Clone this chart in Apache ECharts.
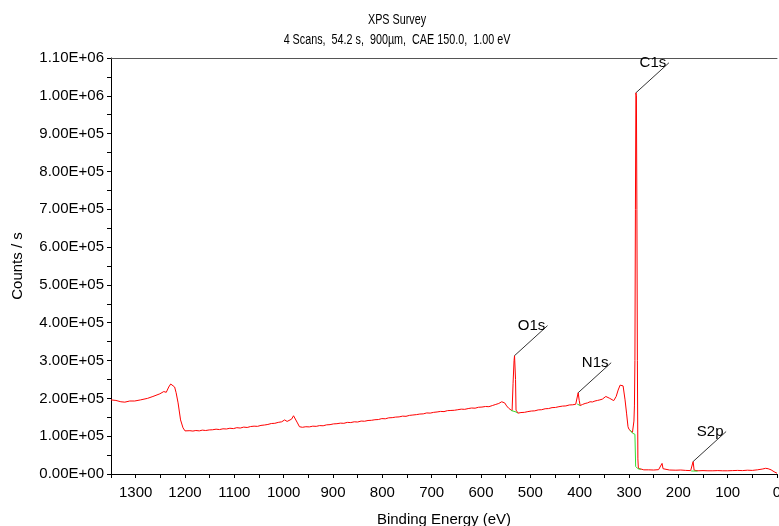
<!DOCTYPE html>
<html>
<head>
<meta charset="utf-8">
<script src="https://cdn.jsdelivr.net/npm/echarts@6/dist/echarts.min.js"></script>
<style>
  html, body { margin: 0; padding: 0; background: #fff; }
  #main { width: 779px; height: 526px; }
</style>
</head>
<body>
<div id="main"></div>
<script>
// survey spectrum (binding energy eV, counts/s)
var energy = [
  1350, 1340, 1330, 1322, 1312, 1302, 1290, 1276, 1265, 1251,
  1243, 1238, 1233, 1229, 1225, 1221, 1218, 1214, 1209, 1204,
  1200, 1196, 1190, 1184, 1178, 1171, 1165, 1158, 1151, 1144,
  1137, 1130, 1123, 1116, 1109, 1102, 1095, 1088, 1081, 1074,
  1067, 1060, 1053, 1046, 1039, 1032, 1025, 1018, 1011, 1004,
  998, 993, 990, 984, 980, 976, 972, 968, 962, 955,
  948, 941, 934, 927, 920, 913, 906, 899, 892, 885,
  878, 871, 864, 857, 850, 843, 836, 829, 822, 815,
  808, 801, 794, 787, 780, 773, 766, 759, 752, 745,
  738, 731, 724, 717, 710, 703, 696, 689, 682, 675,
  668, 661, 654, 647, 640, 633, 626, 619, 612, 605,
  598, 591, 584, 577, 570, 564, 558, 552, 548, 544,
  540, 537, 535, 533, 532, 531, 530, 529, 525, 519,
  512, 505, 498, 491, 484, 477, 470, 463, 456, 449,
  442, 435, 428, 421, 414, 408, 405, 403, 401, 399,
  394, 389, 384, 379, 374, 369, 364, 359, 354, 350,
  347, 343, 339, 335, 331, 326, 322, 318, 315, 312,
  308, 305, 302, 300, 297, 293, 290, 289, 288, 287,
  286, 285, 284, 283, 282, 281, 278, 270, 260, 250,
  240, 236, 233, 231, 228, 218, 205, 195, 185, 175,
  172, 170, 168, 160, 150, 140, 130, 120, 110, 100,
  90, 80, 70, 60, 50, 40, 30, 23, 18, 12,
  6, 0
];
var counts = [
  196000, 194500, 191000, 190000, 193000, 193000, 196000, 200000, 205000, 212000,
  218000, 216000, 230000, 238000, 238000, 230000, 215000, 188000, 143000, 122000,
  114000, 113000, 114500, 113500, 115000, 114000, 116000, 115000, 116500, 117000,
  118500, 117500, 119500, 119000, 121000, 120000, 122500, 121500, 124000, 123000,
  125500, 126500, 126000, 128500, 129500, 131000, 133500, 134000, 136500, 138000,
  143000, 139000, 137000, 145000, 154000, 150000, 135000, 125000, 123500, 125000,
  124500, 126500, 126000, 128000, 127500, 130000, 130500, 132500, 133000, 134500,
  134000, 136500, 136000, 138000, 137500, 140000, 139500, 141500, 142000, 143500,
  144000, 146500, 146000, 148500, 149000, 150500, 151000, 153000, 152500, 155000,
  156000, 157000, 158500, 159000, 161500, 161000, 163000, 164000, 165500, 165000,
  167500, 168000, 168500, 170000, 171500, 171000, 173000, 174500, 174000, 176500,
  177000, 178500, 178000, 181000, 184000, 186500, 191000, 188000, 180000, 174000,
  169000, 167000, 240000, 300000, 313000, 310000, 250000, 169000, 161000, 162500,
  163000, 165000, 166500, 167000, 169500, 170000, 172500, 173000, 175500, 176000,
  178000, 179500, 180000, 182500, 183000, 184500, 186000, 215000, 195000, 181000,
  184000, 186500, 188000, 191000, 190500, 193000, 194500, 196000, 198000, 201000,
  205000, 203000, 200000, 196000, 194000, 205000, 222000, 235000, 238000, 233000,
  196000, 161000, 125000, 118000, 115000, 110000, 140000, 180000, 300000, 700000,
  1008000, 1000000, 700000, 300000, 40000, 15000, 12000, 11000, 11000, 10500,
  11500, 13000, 28000, 14000, 11000, 10500, 10000, 10500, 9500, 9000,
  12000, 33000, 10000, 8500, 9000, 8500, 8500, 9000, 8500, 8500,
  9000, 9500, 9000, 10000, 9500, 11000, 13000, 15000, 14000, 11000,
  6000, 2000
];

// peak backgrounds (green)
var bgO1s = [[539, 168000], [535, 166000], [529, 164000], [526, 161000]];
var bgN1s = [[405, 185000], [399, 181000]];
var bgC1s = [[298, 116000], [293, 108000], [288, 105000], [287, 100000], [286.5, 20000], [282, 14000], [276, 12000]];
var bgS2p = [[174, 8000], [161, 7500]];

// peak annotations
var peakNames = ['C1s', 'O1s', 'N1s', 'S2p'];
var peakEnergy = [286, 532, 403, 170];
var peakCounts = [1008000, 313000, 215000, 33000];

var yTicks = { min: 0, max: 1100000, interval: 100000 };

var FONT = '"Liberation Sans", Arial, sans-serif';

function sci(v) {
  if (v === 0) return '0.00E+00';
  var e = Math.floor(Math.log10(v) + 1e-9);
  var m = v / Math.pow(10, e);
  return m.toFixed(2) + 'E+' + (e < 10 ? '0' + e : e);
}

var spectrum = energy.map(function (e, i) { return [e, counts[i]]; });
var bg = [].concat(bgO1s, [['-', '-']], bgN1s, [['-', '-']], bgC1s, [['-', '-']], bgS2p);
var peaks = peakEnergy.map(function (e, i) { return [e, peakCounts[i]]; });

var chart = echarts.init(document.getElementById('main'));
chart.setOption({
  animation: false,
  graphic: [{
    type: 'text', x: 397, y: 20, scaleX: 0.77,
    style: { text: 'XPS Survey', align: 'center', verticalAlign: 'middle',
      font: '14px ' + FONT, fill: '#000' }
  }, {
    type: 'text', x: 397, y: 40, scaleX: 0.77,
    style: { text: '4 Scans,  54.2 s,  900µm,  CAE 150.0,  1.00 eV', align: 'center', verticalAlign: 'middle',
      font: '14px ' + FONT, fill: '#000' }
  }],
  grid: { left: 111, right: 2, top: 58, bottom: 52, outerBoundsMode: 'none', containLabel: false },
  xAxis: [{
    type: 'value', inverse: true, min: 0, max: 1350, interval: 100,
    name: 'Binding Energy (eV)', nameLocation: 'middle', nameGap: 38,
    nameTextStyle: { fontFamily: FONT, fontSize: 15, color: '#000' },
    axisLine: { onZero: false, lineStyle: { color: '#000', width: 1 } },
    axisTick: { length: 4, lineStyle: { color: '#000' } },
    minorTick: { show: true, splitNumber: 2, length: 4, lineStyle: { color: '#000' } },
    axisLabel: { fontFamily: FONT, fontSize: 15, color: '#000', margin: 11,
      showMaxLabel: false, formatter: function (v) { return String(v); } },
    splitLine: { show: false }
  }, {
    type: 'value', inverse: true, min: 0, max: 1350, position: 'top',
    axisLine: { show: true, onZero: false, lineStyle: { color: '#555' } },
    axisTick: { show: false }, axisLabel: { show: false }, splitLine: { show: false }
  }],
  yAxis: {
    type: 'value', min: yTicks.min, max: yTicks.max, interval: yTicks.interval,
    name: 'Counts / s', nameLocation: 'middle', nameGap: 86,
    nameTextStyle: { fontFamily: FONT, fontSize: 15, color: '#000' },
    axisLine: { show: true, onZero: false, lineStyle: { color: '#000', width: 1 } },
    axisTick: { show: true, length: 4, lineStyle: { color: '#000' } },
    minorTick: { show: true, splitNumber: 2, length: 4, lineStyle: { color: '#000' } },
    axisLabel: { fontFamily: FONT, fontSize: 15, color: '#000', margin: 7, formatter: sci },
    splitLine: { show: false }
  },
  series: [{
    type: 'line', data: spectrum, showSymbol: false, symbol: 'none',
    lineStyle: { color: '#ff0000', width: 1 }
  }, {
    type: 'line', data: bg, showSymbol: false, symbol: 'none', connectNulls: false,
    lineStyle: { color: '#33dd33', width: 1 }
  }, {
    type: 'custom', data: peaks, clip: false, z: 5,
    renderItem: function (params, api) {
      var p = api.coord([api.value(0), api.value(1)]);
      return {
        type: 'group',
        children: [{
          type: 'line',
          shape: { x1: p[0], y1: p[1], x2: p[0] + 33, y2: p[1] - 30 },
          style: { stroke: '#333', lineWidth: 1 }
        }, {
          type: 'text',
          style: {
            text: peakNames[params.dataIndex],
            x: p[0] + 17, y: p[1] - 30,
            align: 'center', verticalAlign: 'middle',
            font: '15px ' + FONT, fill: '#000'
          }
        }]
      };
    }
  }]
});
</script>
</body>
</html>
